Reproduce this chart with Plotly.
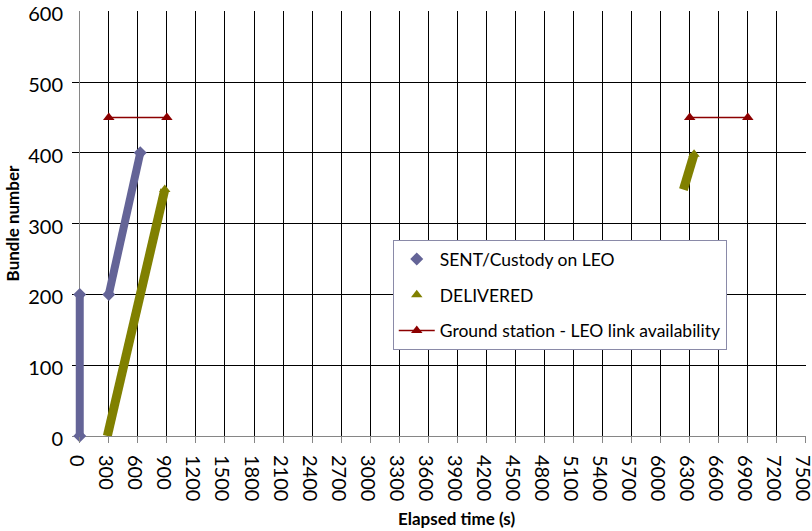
import plotly.graph_objects as go

# ---- data ----
sent_t1 = [0, 0]
sent_b1 = [0, 200]
sent_t2 = [300, 625]
sent_b2 = [200, 400]

deliv_t1 = [285, 630, 878]
deliv_b1 = [0, 200, 348]
deliv_t2 = [6235, 6345]
deliv_b2 = [348, 398]

link_t = [300, 900, None, 6300, 6900]
link_b = [450, 450, None, 450, 450]

x_ticks = list(range(0, 7501, 300))
y_ticks = [0, 100, 200, 300, 400, 500, 600]

BLUE = "#646497"
GREEN = "#808000"
RED = "#8c0000"
FONT = "Lato"

fig = go.Figure()

for t, b in [(sent_t1, sent_b1), (sent_t2, sent_b2)]:
    fig.add_trace(go.Scatter(x=t, y=b, mode="lines", line=dict(color=BLUE, width=8),
                             legendgroup="a", showlegend=False, hoverinfo="skip"))
fig.add_trace(go.Scatter(x=sent_t1 + [None] + sent_t2, y=sent_b1 + [None] + sent_b2,
                         mode="markers", name="SENT/Custody on LEO",
                         marker=dict(symbol="diamond", color=BLUE, size=10),
                         legendgroup="a", cliponaxis=False))

for t, b in [(deliv_t1, deliv_b1), (deliv_t2, deliv_b2)]:
    fig.add_trace(go.Scatter(x=t, y=b, mode="lines", line=dict(color=GREEN, width=9),
                             legendgroup="b", showlegend=False, hoverinfo="skip"))
fig.add_trace(go.Scatter(x=[deliv_t1[-1], None, deliv_t2[-1]], y=[deliv_b1[-1], None, deliv_b2[-1]],
                         mode="markers", name="DELIVERED",
                         marker=dict(symbol="triangle-up", color=GREEN, size=10),
                         legendgroup="b", cliponaxis=False))

fig.add_trace(go.Scatter(x=link_t, y=link_b, mode="lines+markers",
                         name="Ground station - LEO link availability",
                         line=dict(color=RED, width=1.5),
                         marker=dict(symbol="triangle-up", color=RED, size=10),
                         legendgroup="c", connectgaps=False))

fig.update_layout(
    width=812, height=531,
    margin=dict(l=72, r=6, t=11, b=95),
    paper_bgcolor="white", plot_bgcolor="white",
    font=dict(family=FONT, size=18, color="black"),
    showlegend=True,
    legend=dict(x=0.437, y=0.461, xanchor="left", yanchor="top",
                bgcolor="white", bordercolor="#8a8aa8", borderwidth=1,
                font=dict(family=FONT, size=17.5, color="black"),
                traceorder="grouped", tracegroupgap=10, itemwidth=36),
    annotations=[dict(text="<b>Elapsed time (s)</b>", xref="paper", yref="paper",
                      x=0.5245, y=-0.193, xanchor="center", yanchor="middle",
                      showarrow=False, font=dict(family=FONT, size=17, color="black"))],
)
fig.update_xaxes(
    range=[-80, 7501], tickmode="array", tickvals=x_ticks,
    ticktext=[str(v) for v in x_ticks], tickangle=90, automargin=False,
    ticklabeloverflow="allow", ticklabelshift=-3,
    showgrid=True, gridcolor="#000000", gridwidth=1,
    zeroline=True, zerolinecolor="#868686", zerolinewidth=1,
    showline=False, ticks="outside", ticklen=6, tickcolor="#868686",
    tickfont=dict(size=20), ticklabelstandoff=8,
)
fig.update_yaxes(
    range=[0, 600.3], tickmode="array", tickvals=y_ticks, automargin=False,
    ticklabeloverflow="allow", ticklabelshift=3,
    showgrid=True, gridcolor="#000000", gridwidth=1,
    zeroline=True, zerolinecolor="#868686", zerolinewidth=1,
    showline=False, ticks="", tickfont=dict(size=20), ticklabelstandoff=8,
    title=dict(text="<b>Bundle number</b>", font=dict(size=17), standoff=4),
)

# remove the browser's default 8px body margin so the figure fills the window
fig.write_html("out.html", config={"displayModeBar": False},
               post_script="document.body.style.margin='0';")
